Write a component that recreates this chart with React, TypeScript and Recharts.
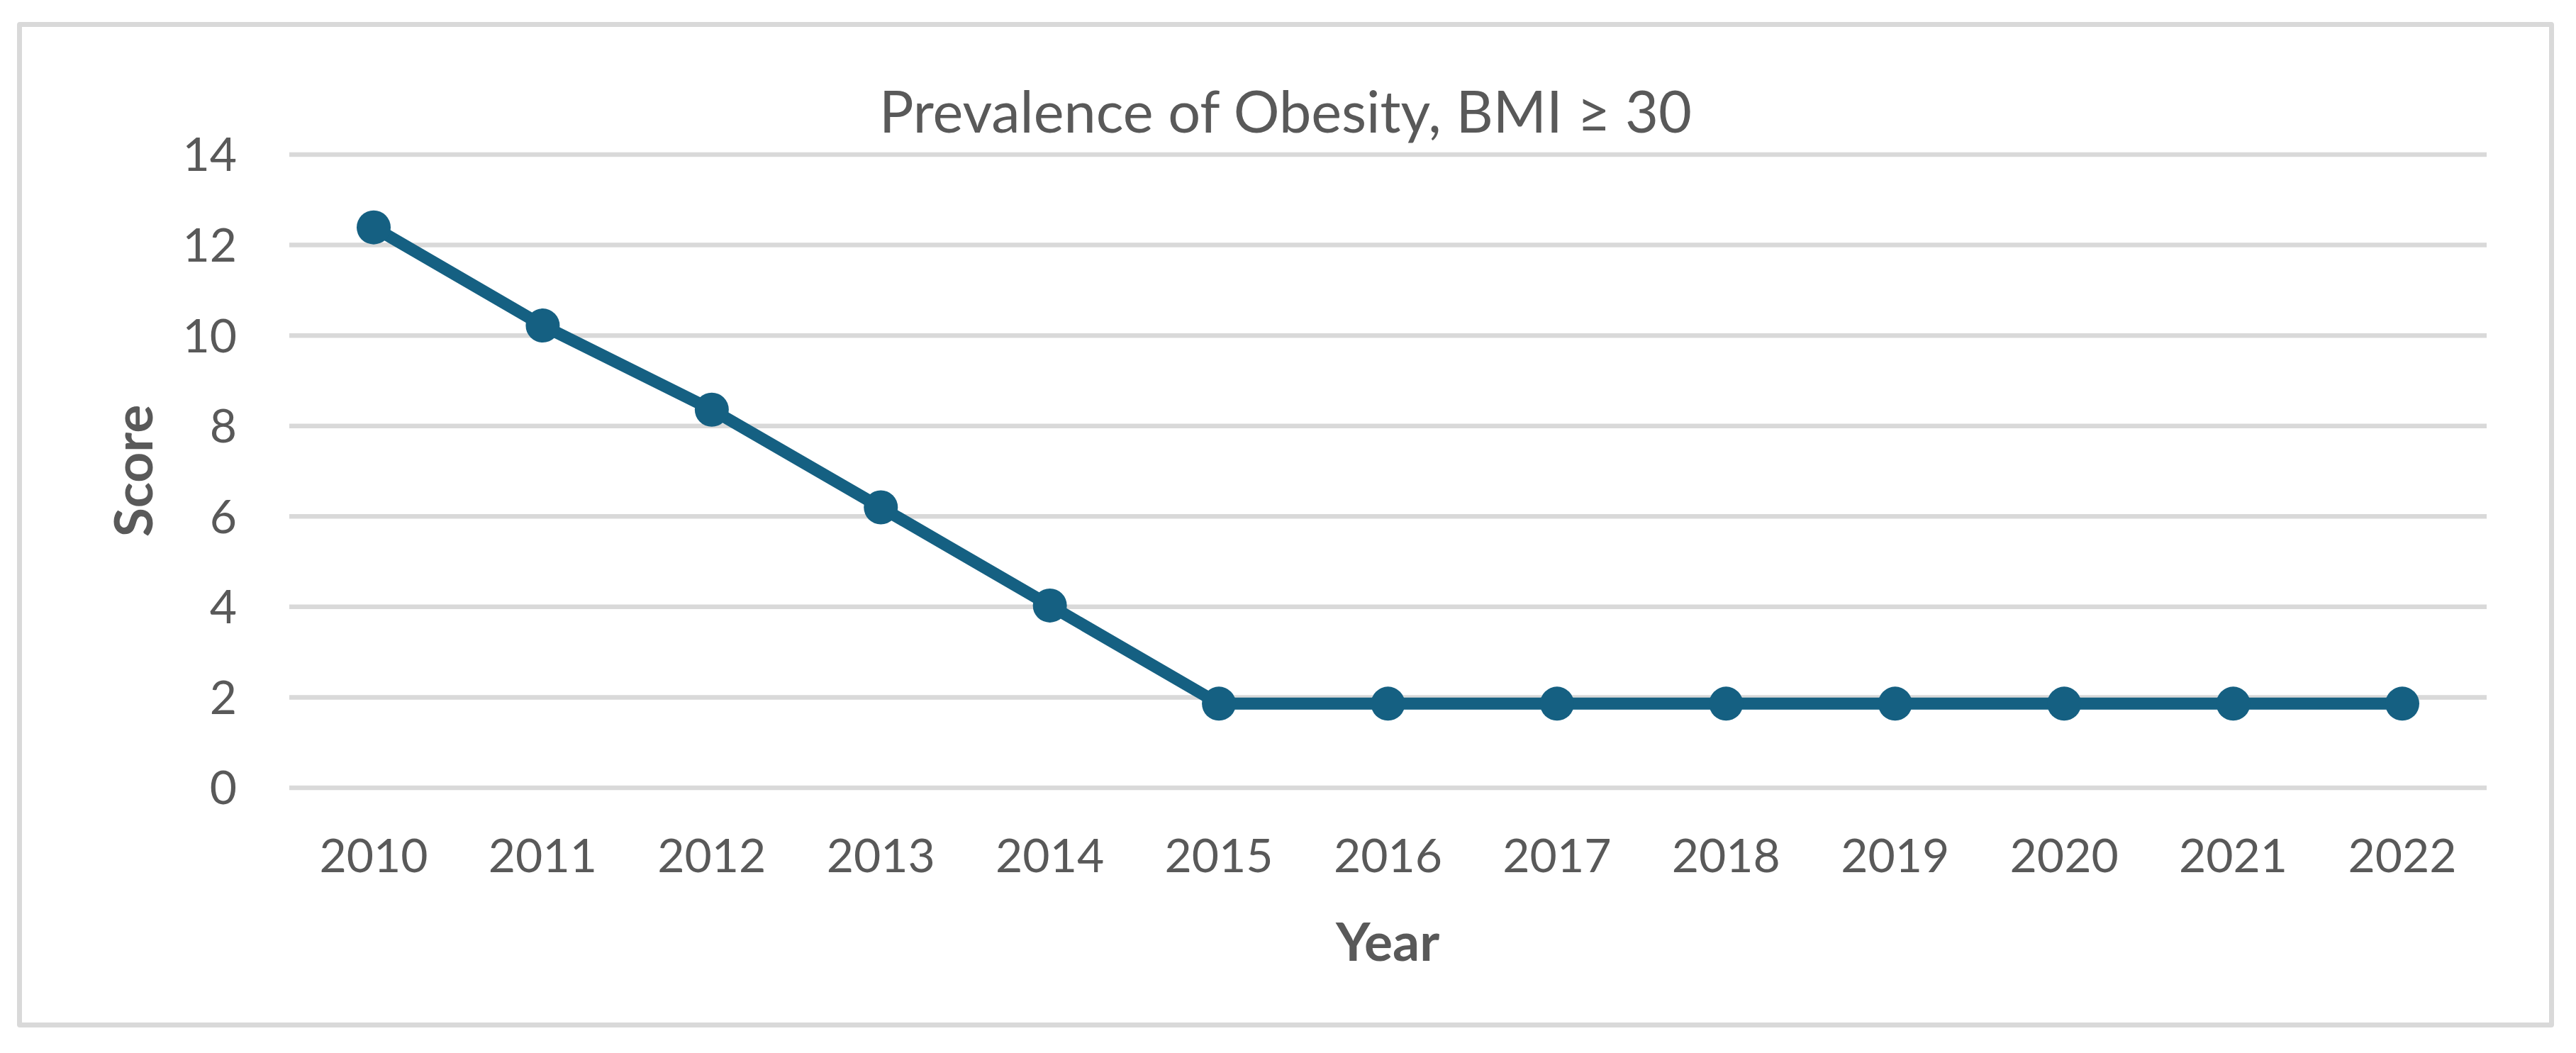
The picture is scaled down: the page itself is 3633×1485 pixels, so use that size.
import React from "react";
import { LineChart, Line, XAxis, YAxis, CartesianGrid, Customized } from "recharts";

const years = ["2010", "2011", "2012", "2013", "2014", "2015", "2016", "2017", "2018", "2019", "2020", "2021", "2022"];
const obesityScores = [12.39, 10.22, 8.36, 6.2, 4.03, 1.86, 1.86, 1.86, 1.86, 1.86, 1.86, 1.86, 1.86];
const scoreTicks = [0, 2, 4, 6, 8, 10, 12, 14];

const chartTitle = "Prevalence of Obesity, BMI \u2265 30";
const xTitle = "Year";
const yTitle = "Score";

const data = years.map((year, i) => ({ year, score: obesityScores[i] }));

const FONT = 'Lato, "Open Sans", sans-serif';
const GREY_TEXT = "#595959";

const Titles = () => (
  <g>
    <text x={1813} y={187} textAnchor="middle" fontSize={81} fill={GREY_TEXT} fontFamily={FONT}>
      {chartTitle}
    </text>
    <text x={1957} y={1355} textAnchor="middle" fontSize={75} fontWeight="bold" fill={GREY_TEXT} fontFamily={FONT}>
      {xTitle}
    </text>
    <text
      x={215}
      y={664}
      textAnchor="middle"
      fontSize={75}
      fontWeight="bold"
      fill={GREY_TEXT}
      fontFamily={FONT}
      transform="rotate(-90 215 664)"
    >
      {yTitle}
    </text>
  </g>
);

const App = () => {
  return (
    <div style={{ position: "absolute", left: 0, top: 0, width: 3633, height: 1485, background: "#fff" }}>
      <div
        style={{
          position: "absolute",
          left: 24,
          top: 31,
          width: 3578,
          height: 1418,
          boxSizing: "border-box",
          border: "7px solid #d9d9d9",
          borderRadius: 4,
        }}
      />
      <div style={{ position: "absolute", left: 0, top: 0 }}>
        <LineChart width={3633} height={1485} data={data} margin={{ top: 218, right: 126, bottom: 254, left: 108 }}>
          <CartesianGrid vertical={false} stroke="#d9d9d9" strokeWidth={6.5} />
          <XAxis
            dataKey="year"
            height={120}
            axisLine={false}
            tickLine={false}
            tickSize={0}
            tickMargin={72}
            padding={{ left: 119, right: 119 }}
            interval={0}
            tick={{ fill: GREY_TEXT, fontSize: 66, fontFamily: FONT }}
          />
          <YAxis
            width={300}
            domain={[0, 14]}
            ticks={scoreTicks}
            axisLine={false}
            tickLine={false}
            tickSize={0}
            tickMargin={74}
            tick={{ fill: GREY_TEXT, fontSize: 66, fontFamily: FONT }}
          />
          <Line
            type="linear"
            dataKey="score"
            stroke="#156082"
            strokeWidth={17}
            dot={{ r: 24, fill: "#156082", stroke: "none", strokeWidth: 0 }}
            activeDot={false}
            isAnimationActive={false}
          />
          <Customized component={Titles} />
        </LineChart>
      </div>
    </div>
  );
};

export default App;
